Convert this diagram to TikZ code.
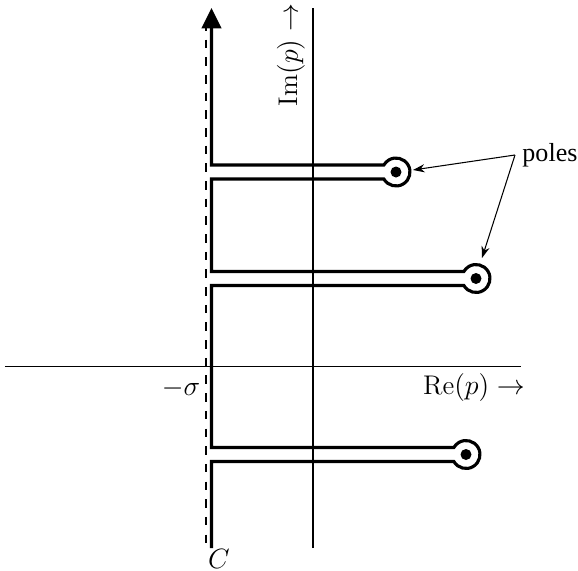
\documentclass[tikz,border=0pt]{standalone}
\usepackage{fontspec}
\newfontfamily\timesfont{Liberation Serif}
\usetikzlibrary{arrows.meta,calc}
\begin{document}
\begin{tikzpicture}[x=0.43pt,y=-0.43pt,
  axis/.style={line width=0.6pt},
  contour/.style={line width=1.35pt},
  guide/.style={line width=0.45pt,dash pattern=on 3.7pt off 3.9pt},
  pointer/.style={line width=0.45pt,-{Stealth[length=5pt,width=3.5pt]}},
  poledot/.style={fill=black},
  lbl/.style={inner sep=0pt,font=\fontsize{11.6}{14}\selectfont}]
\useasboundingbox (0,0) rectangle (578,571);
% axes
\coordinate (xl) at (5,366.5);
\coordinate (xr) at (521,366.5);
\coordinate (yt) at (313,8);
\coordinate (yb) at (313,548);
\draw[axis] (xl) -- (xr);
\draw[axis] (yb) -- (yt);
% dashed line at -sigma
\coordinate (dt) at (206,22);
\coordinate (db) at (206,548);
\draw[guide] (dt) -- (db);
% poles
\coordinate (p1) at (396,172);
\coordinate (p2) at (476,278.5);
\coordinate (p3) at (466,454.5);
% contour
\draw[contour,-{Triangle[width=8.4pt,length=8.8pt]}]
  (211.5,548) -- (211.5,461.5) -- ($(p3)+(-12.12,7)$)
  arc[start angle=150,end angle=-150,radius=14]
  -- (211.5,447.5) -- (211.5,285.5) -- ($(p2)+(-12.12,7)$)
  arc[start angle=150,end angle=-150,radius=14]
  -- (211.5,271.5) -- (211.5,179) -- ($(p1)+(-12.12,7)$)
  arc[start angle=150,end angle=-150,radius=14]
  -- (211.5,165) -- (211.5,8);
\fill[poledot] (p1) circle (5.5);
\fill[poledot] (p2) circle (5.5);
\fill[poledot] (p3) circle (5.5);
% labels
\node[lbl,rotate=90] (im) at (291,55) {$\mathrm{Im}(p)\rightarrow$};
\node[lbl] (re) at (474,388) {$\mathrm{Re}(p)\rightarrow$};
\node[lbl] (sig) at (181,389) {$-\sigma$};
\node[lbl] (c) at (219,559) {$C$};
\node[inner sep=0pt,anchor=west] (poles) at (522,155) {\timesfont\fontsize{11.2}{13}\selectfont poles};
\draw[pointer] (poles.west) ++(-7,0) coordinate (ps) -- (413,170);
\draw[pointer] (ps) -- (482,258);
\end{tikzpicture}
\end{document}
